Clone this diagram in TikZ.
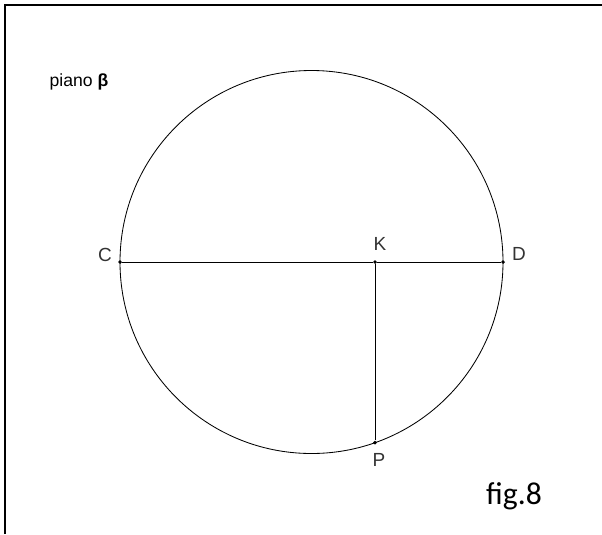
\documentclass[tikz,border=0pt]{standalone}
\usepackage{fontspec}
\setmainfont{Liberation Sans}
\newfontfamily\figfont{Carlito}
\usetikzlibrary{calc,positioning}
\tikzset{
  frameline/.style={black,line width=1.6pt},
  thinline/.style={black,line width=0.6pt},
  point/.style={circle,fill=black,inner sep=1pt},
  ptlabel/.style={font=\fontsize{13.5}{16}\selectfont,text=black!80}
}

\begin{document}
\begin{tikzpicture}[x=0.025cm,y=-0.025cm]
\useasboundingbox (0,0) rectangle (602,534);
\draw[frameline] (5,534)--(5,5)--(602,5);
\coordinate (O) at (311.5,262);
\draw[thinline] (O) circle (191.5);
\node[point] (C) at (120,262) {};
\node[point] (D) at (503,262) {};
\node[point] (K) at (375,262) {};
\node[point] (P) at (375,442.7) {};
\draw[thinline] (C)--(K)--(D);
\draw[thinline] (K)--(P);
\node[ptlabel] (lC) at (105,255) {C};
\node[ptlabel] (lK) at (380,244) {K};
\node[ptlabel] (lD) at (519,254) {D};
\node[ptlabel] (lP) at (379,460) {P};
\node[font=\fontsize{12.5}{15}\selectfont] (piano) at (79,82) {piano \textbf{β}};
\node[font=\figfont\fontsize{22.5}{27}\selectfont] (fig) at (514,496) {fig.8};
\end{tikzpicture}
\end{document}
